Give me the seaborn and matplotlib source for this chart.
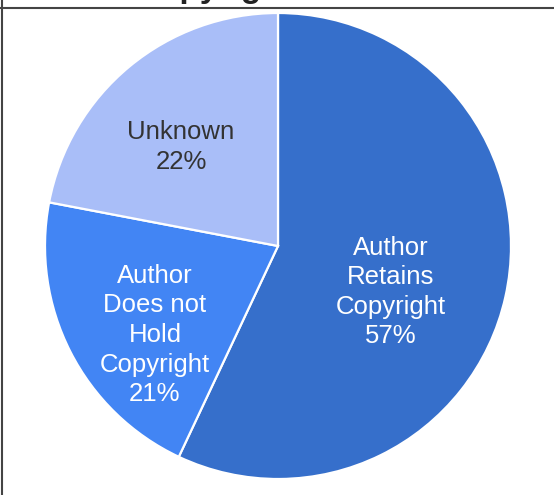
import matplotlib
matplotlib.use("Agg")
from matplotlib import pyplot as plt
from matplotlib.lines import Line2D
import seaborn as sns

categories = ["Author\nRetains\nCopyright", "Author\nDoes not\nHold\nCopyright", "Unknown"]
shares = [57, 21, 22]
colors = ["#366fcb", "#4285f4", "#a9bef8"]
text_colors = ["white", "white", "#333333"]

sns.set_theme(style="white")
plt.rcParams['font.family'] = ['Liberation Sans', 'DejaVu Sans']

fig = plt.figure(figsize=(5.54, 4.95), dpi=100)
W, H = 554, 495

# pie axes: centre (278, 246) px, radius 233 px
cx, cy, r = 278, 246, 233
ax = fig.add_axes([(cx - r) / W, (H - cy - r) / H, 2 * r / W, 2 * r / H])

wedges, _ = ax.pie(shares, colors=sns.color_palette(colors), startangle=90, counterclock=False,
                   wedgeprops=dict(edgecolor="white", linewidth=1.6))
ax.set_xlim(-1, 1)
ax.set_ylim(-1, 1)
ax.axis("off")

label_pos = [(0.485, -0.197), (-0.528, -0.382), (-0.416, 0.425)]
for cat, val, tc, (x, y) in zip(categories, shares, text_colors, label_pos):
    ax.text(x, y, f"{cat}\n{val}%", ha="center", va="center", color=tc,
            fontsize=18.5, linespacing=1.29)

# frame and cut-off title
fig.add_artist(Line2D([0, 1], [1 - 8 / H, 1 - 8 / H], color="#444444", lw=1.5, transform=fig.transFigure))
fig.add_artist(Line2D([2 / W, 2 / W], [0, 1], color="#444444", lw=1.5, transform=fig.transFigure))
fig.text(136 / W, 1 + 3 / H, "Copyright", fontsize=24, fontweight="bold", color="#222222",
         ha="left", va="baseline")

fig.savefig("out.png", dpi=100)
